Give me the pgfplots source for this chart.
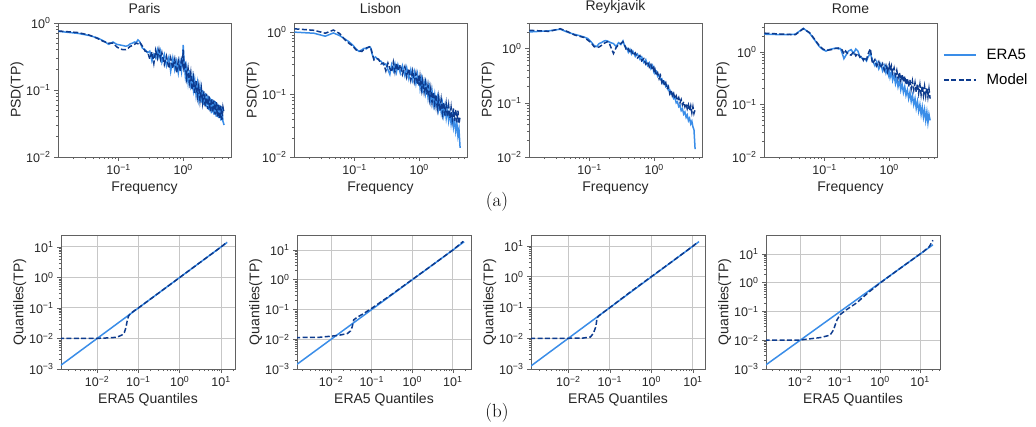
\documentclass[border=0pt]{standalone}
\usepackage{fontspec}
\usepackage{pgfplots}
\usepackage{pgfplotstable}
\pgfplotsset{compat=1.18}
\newfontfamily\pf{Liberation Sans}
\definecolor{eracol}{HTML}{3A8DE8}
\definecolor{modcol}{HTML}{0D3B8E}

% power spectra: f, ERA5, Model
\pgfplotstableread{
f E M
0.0117 0.75 0.76
0.0234 0.70 0.72
0.0351 0.65 0.66
0.0468 0.60 0.59
0.0585 0.54 0.53
0.0702 0.48 0.50
0.0819 0.52 0.50
0.0936 0.48 0.44
0.105 0.47 0.41
0.117 0.46 0.40
0.129 0.45 0.40
0.140 0.46 0.42
0.152 0.49 0.45
0.164 0.50 0.46
0.176 0.52 0.48
0.187 0.51 0.50
0.199 0.56 0.49
0.211 0.53 0.52
0.234 0.42 0.45
0.257 0.40 0.38
0.281 0.36 0.37
0.304 0.38 0.29
0.328 0.27 0.37
0.351 0.34 0.25
0.374 0.30 0.39
0.398 0.40 0.30
0.421 0.31 0.40
0.445 0.38 0.29
0.468 0.26 0.36
0.51 0.34 0.24
0.55 0.23 0.32
0.60 0.31 0.21
0.64 0.19 0.30
0.69 0.30 0.21
0.74 0.20 0.29
0.79 0.27 0.18
0.84 0.18 0.27
0.89 0.27 0.19
0.94 0.19 0.28
0.98 0.30 0.24
1.00 0.47 0.40
1.03 0.28 0.21
1.08 0.16 0.24
1.13 0.22 0.15
1.19 0.13 0.21
1.25 0.20 0.13
1.31 0.12 0.18
1.37 0.16 0.10
1.44 0.10 0.15
1.51 0.14 0.09
1.58 0.085 0.135
1.66 0.125 0.08
1.74 0.075 0.115
1.82 0.11 0.07
1.91 0.065 0.105
2.00 0.10 0.065
2.09 0.06 0.095
2.19 0.09 0.057
2.29 0.055 0.088
2.40 0.083 0.052
2.51 0.05 0.08
2.62 0.077 0.048
2.74 0.045 0.075
2.86 0.072 0.046
2.99 0.043 0.07
3.12 0.068 0.043
3.25 0.04 0.066
3.39 0.063 0.04
3.53 0.038 0.062
3.68 0.06 0.037
3.83 0.035 0.058
3.98 0.056 0.036
4.13 0.034 0.055
4.30 0.03 0.045
}\psdparis

\pgfplotstableread{
f E M
0.0117 1.00 1.13
0.0234 0.96 1.07
0.0351 0.86 0.96
0.0468 0.97 1.08
0.0585 0.88 0.95
0.0702 0.78 0.76
0.0819 0.70 0.66
0.0936 0.62 0.60
0.105 0.54 0.52
0.117 0.49 0.50
0.129 0.52 0.49
0.140 0.55 0.53
0.152 0.54 0.56
0.164 0.58 0.57
0.176 0.57 0.59
0.187 0.44 0.46
0.199 0.38 0.36
0.211 0.40 0.38
0.234 0.36 0.37
0.257 0.34 0.31
0.281 0.30 0.32
0.304 0.31 0.24
0.328 0.25 0.32
0.351 0.21 0.26
0.374 0.30 0.23
0.398 0.24 0.33
0.421 0.31 0.23
0.445 0.23 0.32
0.468 0.30 0.24
0.51 0.22 0.30
0.55 0.29 0.21
0.60 0.20 0.28
0.64 0.27 0.19
0.69 0.18 0.26
0.74 0.25 0.17
0.79 0.17 0.24
0.84 0.23 0.16
0.89 0.15 0.22
0.94 0.21 0.145
0.98 0.14 0.20
1.00 0.19 0.14
1.03 0.13 0.19
1.08 0.18 0.12
1.13 0.12 0.17
1.19 0.16 0.11
1.25 0.105 0.155
1.31 0.145 0.10
1.37 0.09 0.14
1.44 0.13 0.085
1.51 0.08 0.125
1.58 0.115 0.075
1.66 0.07 0.11
1.74 0.10 0.07
1.82 0.065 0.10
1.91 0.09 0.06
2.00 0.058 0.09
2.09 0.08 0.055
2.19 0.052 0.082
2.29 0.072 0.05
2.40 0.047 0.075
2.51 0.065 0.046
2.62 0.042 0.07
2.74 0.058 0.044
2.86 0.038 0.066
2.99 0.052 0.042
3.12 0.034 0.062
3.25 0.046 0.04
3.39 0.03 0.06
3.53 0.04 0.038
3.68 0.026 0.058
3.83 0.035 0.036
3.98 0.022 0.055
4.13 0.028 0.034
4.30 0.014 0.045
}\psdlisbon

\pgfplotstableread{
f E M
0.0117 2.05 2.2
0.0234 2.15 2.1
0.0351 2.3 2.35
0.0468 2.0 2.05
0.0585 1.85 1.8
0.0702 1.75 1.7
0.0819 1.65 1.62
0.0936 1.55 1.45
0.105 1.35 1.3
0.117 1.15 1.1
0.129 1.1 1.05
0.140 1.25 1.08
0.152 1.3 1.15
0.164 1.38 1.25
0.176 1.42 1.3
0.187 1.4 1.35
0.199 1.35 1.33
0.211 1.3 1.1
0.234 1.25 0.82
0.257 1.1 1.05
0.281 1.3 1.2
0.304 1.2 1.25
0.328 1.4 1.35
0.351 1.1 1.15
0.374 1.05 0.92
0.398 0.86 1.0
0.421 0.98 0.84
0.445 0.80 0.93
0.468 0.90 0.76
0.51 0.72 0.84
0.55 0.80 0.68
0.60 0.64 0.75
0.64 0.71 0.60
0.69 0.56 0.66
0.74 0.63 0.52
0.79 0.49 0.58
0.84 0.55 0.46
0.89 0.43 0.51
0.94 0.49 0.41
0.98 0.39 0.45
1.00 0.42 0.37
1.03 0.35 0.41
1.08 0.38 0.32
1.13 0.31 0.36
1.19 0.33 0.28
1.25 0.27 0.32
1.31 0.28 0.24
1.37 0.23 0.27
1.44 0.245 0.21
1.51 0.20 0.235
1.58 0.21 0.18
1.66 0.17 0.20
1.74 0.175 0.15
1.82 0.145 0.175
1.91 0.15 0.135
2.00 0.12 0.15
2.09 0.125 0.12
2.19 0.10 0.135
2.29 0.105 0.11
2.40 0.085 0.125
2.51 0.09 0.10
2.62 0.072 0.115
2.74 0.078 0.092
2.86 0.062 0.105
2.99 0.068 0.085
3.12 0.054 0.098
3.25 0.06 0.078
3.39 0.047 0.092
3.53 0.052 0.072
3.68 0.041 0.088
3.83 0.046 0.066
3.98 0.036 0.085
4.13 0.032 0.064
4.30 0.014 0.075
}\psdreykjavik

\pgfplotstableread{
f E M
0.0117 2.2 2.3
0.0234 2.15 2.2
0.0351 2.2 2.15
0.0468 2.85 2.8
0.0585 2.3 2.35
0.0702 1.7 1.75
0.0819 1.3 1.35
0.0936 1.12 1.15
0.105 1.05 1.08
0.117 1.12 1.1
0.129 1.15 1.12
0.140 1.18 1.17
0.152 1.2 1.18
0.164 1.15 1.2
0.176 1.17 1.15
0.187 0.95 1.1
0.199 0.75 0.92
0.211 0.85 1.05
0.234 1.05 0.9
0.257 1.12 0.88
0.281 0.95 1.02
0.304 1.15 0.85
0.328 1.05 0.95
0.351 0.82 0.8
0.374 0.78 0.85
0.398 0.72 0.7
0.421 0.75 0.8
0.445 0.68 0.72
0.468 0.80 0.9
0.51 0.95 1.17
0.55 0.70 0.60
0.60 0.55 0.72
0.64 0.66 0.55
0.69 0.48 0.66
0.74 0.60 0.50
0.79 0.44 0.60
0.84 0.55 0.45
0.89 0.40 0.56
0.94 0.50 0.42
0.98 0.37 0.53
1.00 0.42 0.58
1.03 0.33 0.44
1.08 0.42 0.55
1.13 0.29 0.40
1.19 0.37 0.50
1.25 0.25 0.36
1.31 0.32 0.45
1.37 0.22 0.32
1.44 0.29 0.41
1.51 0.19 0.29
1.58 0.25 0.38
1.66 0.17 0.27
1.74 0.22 0.35
1.82 0.15 0.24
1.91 0.19 0.32
2.00 0.13 0.22
2.09 0.17 0.30
2.19 0.115 0.20
2.29 0.15 0.28
2.40 0.10 0.19
2.51 0.13 0.26
2.62 0.085 0.175
2.74 0.115 0.25
2.86 0.075 0.165
2.99 0.10 0.24
3.12 0.065 0.155
3.25 0.09 0.23
3.39 0.058 0.15
3.53 0.08 0.22
3.68 0.05 0.145
3.83 0.072 0.21
3.98 0.045 0.14
4.13 0.065 0.20
4.30 0.05 0.13
}\psdrome

\newcommand{\logtick}{\pgfmathtruncatemacro\expo{round(\tick/2.302585)}10\textsuperscript{\ifnum\expo<0 −\number-\expo\else\expo\fi}}

\tikzset{
  eraline/.style={color=eracol, line width=1.5pt},
  modline/.style={color=modcol, line width=1.5pt, dash pattern=on 5pt off 2.4pt},
}

\pgfplotsset{
  every axis/.append style={
    scale only axis, height=134pt,
    axis line style={black!62, line width=0.9pt},
    tick style={black!62, line width=0.7pt},
    tick align=outside, xtick pos=left, ytick pos=left,
    major tick length=4pt, minor tick length=2.2pt,
    xticklabel={\logtick}, yticklabel={\logtick},
  },
  every tick label/.append style={font=\pf\fontsize{12.5}{14}\selectfont, text=black!85},
  every axis label/.append style={font=\pf\fontsize{14}{16}\selectfont, text=black!85},
  every axis title/.append style={font=\pf\fontsize{14}{16}\selectfont, text=black!85},
  every axis x label/.append style={at={(axis description cs:0.5,-0.26)}, anchor=base},
  every axis y label/.append style={at={(axis description cs:-0.237,0.5)}, anchor=center},
  psdaxis/.style={width=173pt, xmin=0.0115, xmax=5.5, ymin=0.01,
    xtick={0.1,1}, ytick={0.01,0.1,1},
    minor xtick={0.02,0.03,0.04,0.05,0.06,0.07,0.08,0.09,0.2,0.3,0.4,0.5,0.6,0.7,0.8,0.9,2,3,4,5},
    minor ytick={0.02,0.03,0.04,0.05,0.06,0.07,0.08,0.09,0.2,0.3,0.4,0.5,0.6,0.7,0.8,0.9,2,3},
    xlabel={Frequency}, ylabel={PSD(TP)}},
  qqaxis/.style={width=174pt, ymin=0.001,
    xtick={0.01,0.1,1,10}, ytick={0.001,0.01,0.1,1,10},
    minor xtick={0.002,0.003,0.004,0.005,0.006,0.007,0.008,0.009,0.02,0.03,0.04,0.05,0.06,0.07,0.08,0.09,0.2,0.3,0.4,0.5,0.6,0.7,0.8,0.9,2,3,4,5,6,7,8,9,20,30},
    grid=major, major grid style={black!22, line width=1pt},
    xlabel={ERA5 Quantiles}, ylabel={Quantiles(TP)}},
}

\begin{document}
\begin{tikzpicture}
\useasboundingbox (0pt,0pt) rectangle (1036pt,426pt);

% (a) power spectral density
\begin{loglogaxis}[psdaxis, at={(58pt,269pt)}, anchor=south west, ymax=1, title={Paris}]
\addplot[eraline] table[x=f,y=E]{\psdparis};
\addplot[modline] table[x=f,y=M]{\psdparis};
\end{loglogaxis}
\begin{loglogaxis}[psdaxis, at={(294pt,269pt)}, anchor=south west, ymax=1.4, title={Lisbon}]
\addplot[eraline] table[x=f,y=E]{\psdlisbon};
\addplot[modline] table[x=f,y=M]{\psdlisbon};
\end{loglogaxis}
\begin{loglogaxis}[psdaxis, at={(529pt,269pt)}, anchor=south west, ymax=3.0, title={Reykjavik}]
\addplot[eraline] table[x=f,y=E]{\psdreykjavik};
\addplot[modline] table[x=f,y=M]{\psdreykjavik};
\end{loglogaxis}
\begin{loglogaxis}[psdaxis, at={(764pt,269pt)}, anchor=south west, ymax=3.6, title={Rome},
  legend style={at={(1.0,0.668)}, anchor=west, xshift=3pt, draw=none, fill=none,
    font=\pf\fontsize{15}{17}\selectfont, row sep=9pt, column sep=8pt},
  legend cell align=left,
  legend image code/.code={\draw[#1] (0pt,0pt) -- (32pt,0pt);}]
\addplot[eraline] table[x=f,y=E]{\psdrome};
\addlegendentry{ERA5}
\addplot[modline] table[x=f,y=M]{\psdrome};
\addlegendentry{Model}
\end{loglogaxis}

% (b) quantile-quantile
\begin{loglogaxis}[qqaxis, at={(61pt,57pt)}, anchor=south west, xmin=0.00134, xmax=21.8, ymax=24.7]
\addplot[eraline] coordinates {(0.0012,0.0012) (14,14)};
\addplot[modline] coordinates {(0.0012,0.01) (0.005,0.01) (0.01,0.0101) (0.02,0.0105) (0.03,0.011)
  (0.04,0.013) (0.046,0.016) (0.05,0.023) (0.054,0.04) (0.058,0.055) (0.065,0.066)
  (0.08,0.082) (0.1,0.1) (0.3,0.3) (1,1) (3,3) (10,10) (14,14.5)};
\end{loglogaxis}
\begin{loglogaxis}[qqaxis, at={(297pt,57pt)}, anchor=south west, xmin=0.00144, xmax=28, ymax=32]
\addplot[eraline] coordinates {(0.0013,0.0013) (19,19)};
\addplot[modline] coordinates {(0.0013,0.0114) (0.005,0.0116) (0.0094,0.0126) (0.015,0.0135)
  (0.025,0.0155) (0.03,0.019) (0.033,0.026) (0.036,0.045) (0.044,0.055) (0.065,0.075)
  (0.1,0.11) (0.3,0.31) (1,1.02) (3,3) (10,10) (18,19.5)};
\end{loglogaxis}
\begin{loglogaxis}[qqaxis, at={(531pt,57pt)}, anchor=south west, xmin=0.00126, xmax=19.5, ymax=23]
\addplot[eraline] coordinates {(0.0012,0.0012) (14,14)};
\addplot[modline] coordinates {(0.0012,0.01) (0.01,0.01) (0.023,0.0102) (0.034,0.011) (0.04,0.0145)
  (0.046,0.024) (0.049,0.046) (0.055,0.055) (0.1,0.1) (0.3,0.31) (1,1.02) (3,3) (10,10) (13,13.5)};
\end{loglogaxis}
\begin{loglogaxis}[qqaxis, at={(766pt,57pt)}, anchor=south west, xmin=0.0014, xmax=31.6, ymax=46]
\addplot[eraline] coordinates {(0.0013,0.0013) (21,21)};
\addplot[modline] coordinates {(0.0013,0.0101) (0.01,0.0102) (0.032,0.0124) (0.056,0.015) (0.068,0.0225)
  (0.083,0.05) (0.1,0.078) (0.15,0.12) (0.26,0.2) (0.5,0.45) (1,0.98) (3,3) (12,12) (17,18) (21,30)};
\end{loglogaxis}

\node[font=\fontsize{19}{22}\selectfont] at (497pt,224pt) {(a)};
\node[font=\fontsize{19}{22}\selectfont] at (497pt,13pt) {(b)};
\end{tikzpicture}
\end{document}
